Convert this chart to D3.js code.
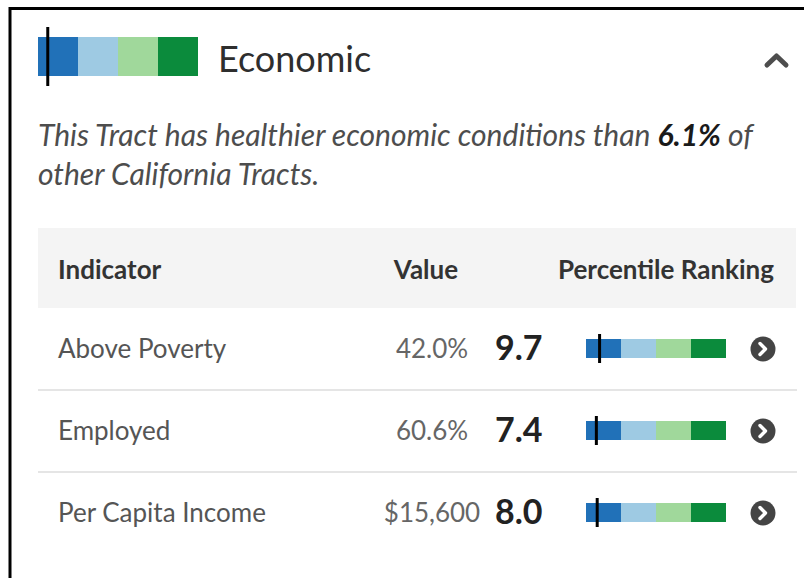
<!DOCTYPE html>
<html>
<head>
<meta charset="utf-8">
<script src="https://cdn.jsdelivr.net/npm/d3@7"></script>
<style>
  body { margin: 0; background: #fff; }
  svg { display: block; font-family: Lato, 'Open Sans', sans-serif; }
</style>
</head>
<body>
<svg id="card" width="804" height="578"></svg>
<script>
// chart data
var category = 'Economic';
var overallPercentile = 6.1;
var indicators = ['Above Poverty', 'Employed', 'Per Capita Income'];
var indicatorValues = ['42.0%', '60.6%', '$15,600'];
var percentiles = [9.7, 7.4, 8.0];
var columns = ['Indicator', 'Value', 'Percentile Ranking'];
var binEdges = [0, 25, 50, 75, 100];
var binColors = ['#2171b8', '#9ecae3', '#a0d89b', '#0b8b3c'];

var svg = d3.select('#card');

// frame (left + top edge only, rest is cropped)
svg.append('path')
  .attr('d', 'M10,578 V8.5 H804')
  .attr('fill', 'none')
  .attr('stroke', '#000')
  .attr('stroke-width', 3);

function drawRankBar(g, xScale, y, h, value, tickOver) {
  var bins = d3.range(binColors.length).map(function(i) {
    return { from: binEdges[i], to: binEdges[i + 1], color: binColors[i] };
  });
  g.selectAll('rect.bin')
    .data(bins)
    .enter()
    .append('rect')
    .attr('class', 'bin')
    .attr('x', function(d) { return xScale(d.from); })
    .attr('width', function(d) { return xScale(d.to) - xScale(d.from); })
    .attr('y', y)
    .attr('height', h)
    .attr('fill', function(d) { return d.color; });
  g.append('line')
    .attr('x1', xScale(value))
    .attr('x2', xScale(value))
    .attr('y1', y - tickOver)
    .attr('y2', y + h + tickOver)
    .attr('stroke', '#000')
    .attr('stroke-width', 3);
}

// header bar
var headX = d3.scaleLinear().domain([0, 100]).range([38, 198]);
drawRankBar(svg.append('g'), headX, 37, 39, overallPercentile, 10);

svg.append('text')
  .attr('x', 218)
  .attr('y', 72)
  .attr('fill', '#2e2e2e')
  .style('font-size', '36px')
  .text(category);

// collapse chevron
svg.append('path')
  .attr('d', 'M767,65 L776.5,56 L786,65')
  .attr('fill', 'none')
  .attr('stroke', '#4d4d4d')
  .attr('stroke-width', 5)
  .attr('stroke-linecap', 'round')
  .attr('stroke-linejoin', 'round');

// summary sentence
var summary = svg.append('text')
  .attr('fill', '#4d4d4d')
  .style('font-style', 'italic')
  .style('font-size', '30px');
var line1 = summary.append('tspan').attr('x', 38).attr('y', 146);
line1.append('tspan').text('This Tract has healthier economic conditions than ');
line1.append('tspan').attr('fill', '#1a1a1a').style('font-weight', 'bold').text(overallPercentile.toFixed(1) + '%');
line1.append('tspan').text(' of');
summary.append('tspan').attr('x', 38).attr('y', 185).text('other California Tracts.');

// table header
svg.append('rect')
  .attr('x', 38)
  .attr('y', 228)
  .attr('width', 758)
  .attr('height', 80)
  .attr('fill', '#f4f4f4');

var colX = [58, 426, 666];
var colAnchor = ['start', 'middle', 'middle'];
svg.selectAll('text.colhead')
  .data(columns)
  .enter()
  .append('text')
  .attr('class', 'colhead')
  .attr('x', function(d, i) { return colX[i]; })
  .attr('y', 279)
  .attr('text-anchor', function(d, i) { return colAnchor[i]; })
  .attr('fill', '#333')
  .style('font-weight', 'bold')
  .style('font-size', '26px')
  .text(function(d) { return d; });

// rows
var rowY = d3.scaleBand().domain(indicators).range([308, 554]);
var rankX = d3.scaleLinear().domain([0, 100]).range([586, 726]);

var rows = svg.selectAll('g.row')
  .data(indicators.map(function(name, i) {
    return { name: name, value: indicatorValues[i], pct: percentiles[i] };
  }))
  .enter()
  .append('g')
  .attr('class', 'row')
  .attr('transform', function(d) {
    return 'translate(0,' + (rowY(d.name) + rowY.bandwidth() / 2) + ')';
  });

rows.filter(function(d, i) { return i < indicators.length - 1; })
  .append('line')
  .attr('x1', 38)
  .attr('x2', 797)
  .attr('y1', rowY.bandwidth() / 2)
  .attr('y2', rowY.bandwidth() / 2)
  .attr('stroke', '#dcdcdc')
  .attr('stroke-width', 1.5);

rows.append('text')
  .attr('x', 58)
  .attr('y', 9)
  .attr('fill', '#555')
  .style('font-size', '26px')
  .text(function(d) { return d.name; });

rows.append('text')
  .attr('x', 432)
  .attr('y', 9)
  .attr('text-anchor', 'middle')
  .attr('fill', '#666')
  .style('font-size', '26px')
  .text(function(d) { return d.value; });

rows.append('text')
  .attr('x', 495)
  .attr('y', 11)
  .attr('fill', '#222')
  .style('font-weight', 'bold')
  .style('font-size', '34px')
  .text(function(d) { return d.pct.toFixed(1); });

rows.each(function(d) {
  drawRankBar(d3.select(this), rankX, -10, 19, d.pct, 5);
});

// detail arrow buttons
rows.append('circle')
  .attr('cx', 763)
  .attr('cy', 0)
  .attr('r', 12.5)
  .attr('fill', '#444');
rows.append('path')
  .attr('d', 'M760,-5.5 L765.5,0 L760,5.5')
  .attr('fill', 'none')
  .attr('stroke', '#fff')
  .attr('stroke-width', 3.4)
  .attr('stroke-linecap', 'round')
  .attr('stroke-linejoin', 'round');
</script>
</body>
</html>
